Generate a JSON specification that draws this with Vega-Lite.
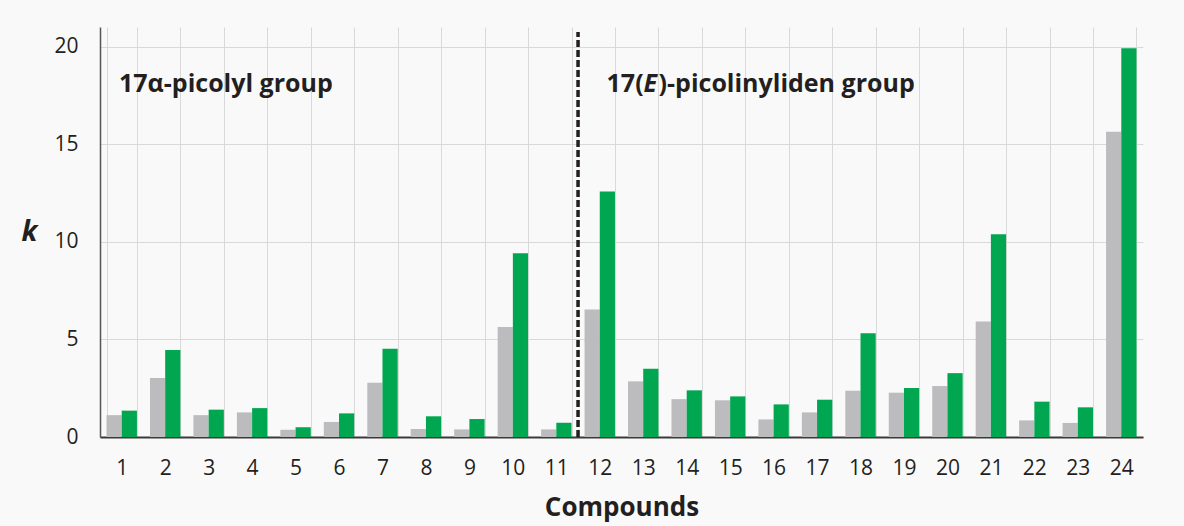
{
  "$schema": "https://vega.github.io/schema/vega-lite/v6.json",
  "width": 1043,
  "height": 410,
  "autosize": "none",
  "padding": {"left": 100, "top": 27, "right": 41, "bottom": 89},
  "background": "#f9f9f9",
  "config": {"view": {"stroke": null}, "font": "Open Sans"},
  "datasets": {
    "bars": [
      {"compound": 1, "series": "a", "k": 1.12}, {"compound": 1, "series": "b", "k": 1.35},
      {"compound": 2, "series": "a", "k": 3.02}, {"compound": 2, "series": "b", "k": 4.45},
      {"compound": 3, "series": "a", "k": 1.12}, {"compound": 3, "series": "b", "k": 1.4},
      {"compound": 4, "series": "a", "k": 1.26}, {"compound": 4, "series": "b", "k": 1.48},
      {"compound": 5, "series": "a", "k": 0.37}, {"compound": 5, "series": "b", "k": 0.5},
      {"compound": 6, "series": "a", "k": 0.77}, {"compound": 6, "series": "b", "k": 1.21},
      {"compound": 7, "series": "a", "k": 2.78}, {"compound": 7, "series": "b", "k": 4.52},
      {"compound": 8, "series": "a", "k": 0.41}, {"compound": 8, "series": "b", "k": 1.06},
      {"compound": 9, "series": "a", "k": 0.39}, {"compound": 9, "series": "b", "k": 0.92},
      {"compound": 10, "series": "a", "k": 5.64}, {"compound": 10, "series": "b", "k": 9.41},
      {"compound": 11, "series": "a", "k": 0.39}, {"compound": 11, "series": "b", "k": 0.73},
      {"compound": 12, "series": "a", "k": 6.53}, {"compound": 12, "series": "b", "k": 12.58},
      {"compound": 13, "series": "a", "k": 2.85}, {"compound": 13, "series": "b", "k": 3.49},
      {"compound": 14, "series": "a", "k": 1.94}, {"compound": 14, "series": "b", "k": 2.39},
      {"compound": 15, "series": "a", "k": 1.88}, {"compound": 15, "series": "b", "k": 2.08},
      {"compound": 16, "series": "a", "k": 0.9}, {"compound": 16, "series": "b", "k": 1.67},
      {"compound": 17, "series": "a", "k": 1.26}, {"compound": 17, "series": "b", "k": 1.91},
      {"compound": 18, "series": "a", "k": 2.37}, {"compound": 18, "series": "b", "k": 5.32},
      {"compound": 19, "series": "a", "k": 2.27}, {"compound": 19, "series": "b", "k": 2.51},
      {"compound": 20, "series": "a", "k": 2.61}, {"compound": 20, "series": "b", "k": 3.27},
      {"compound": 21, "series": "a", "k": 5.92}, {"compound": 21, "series": "b", "k": 10.38},
      {"compound": 22, "series": "a", "k": 0.85}, {"compound": 22, "series": "b", "k": 1.81},
      {"compound": 23, "series": "a", "k": 0.72}, {"compound": 23, "series": "b", "k": 1.52},
      {"compound": 24, "series": "a", "k": 15.64}, {"compound": 24, "series": "b", "k": 19.91}
    ],
    "one": [{}]
  },
  "layer": [
    {
      "data": {"name": "bars"},
      "mark": {"type": "bar"},
      "encoding": {
        "x": {
          "field": "compound",
          "type": "ordinal",
          "scale": {"paddingInner": 0.3, "paddingOuter": 0.15},
          "axis": {
            "labelAngle": 0,
            "ticks": false,
            "grid": true,
            "tickBand": "extent",
            "gridColor": "#d9d9d9",
            "gridWidth": 1,
            "domainColor": "#3a3a3a",
            "domainWidth": 2,
            "labelFontSize": 21,
            "labelColor": "#231f20",
            "labelPadding": 20,
            "title": "Compounds",
            "titleFontSize": 26,
            "titleFontWeight": "bold",
            "titleColor": "#231f20",
            "titlePadding": 16
          }
        },
        "xOffset": {"field": "series", "sort": ["a", "b"]},
        "y": {
          "field": "k",
          "type": "quantitative",
          "scale": {"domain": [0, 21], "nice": false},
          "axis": {
            "values": [0, 5, 10, 15, 20],
            "grid": true,
            "gridColor": "#d9d9d9",
            "ticks": false,
            "domainColor": "#555555",
            "domainWidth": 1.5,
            "labelFontSize": 21,
            "labelColor": "#231f20",
            "labelPadding": 22,
            "title": "k",
            "titleAngle": 0,
            "titleFontSize": 28,
            "titleFontStyle": "italic",
            "titleFontWeight": "bold",
            "titleColor": "#231f20",
            "titleX": -71,
            "titleY": 205,
            "titleAlign": "center",
            "titleBaseline": "middle"
          }
        },
        "color": {
          "field": "series",
          "scale": {"domain": ["a", "b"], "range": ["#bcbcbe", "#00a650"]},
          "legend": null
        }
      }
    },
    {
      "data": {"name": "one"},
      "mark": {"type": "rule", "strokeDash": [7, 3], "strokeWidth": 3.5, "color": "#231f20"},
      "encoding": {
        "x": {"datum": 11, "type": "ordinal", "bandPosition": 1.2143},
        "y": {"datum": 0, "type": "quantitative"},
        "y2": {"datum": 20.75}
      }
    },
    {
      "data": {"name": "one"},
      "mark": {"type": "text", "align": "left", "baseline": "alphabetic", "fontSize": 25, "fontWeight": "bold", "color": "#231f20", "dx": 12.5},
      "encoding": {
        "x": {"datum": 1, "type": "ordinal", "bandPosition": 0},
        "y": {"datum": 17.68, "type": "quantitative"},
        "text": {"value": "17α-picolyl group"}
      }
    },
    {
      "data": {"name": "one"},
      "mark": {"type": "text", "align": "left", "baseline": "alphabetic", "fontSize": 25, "fontWeight": "bold", "color": "#231f20", "dx": 22},
      "encoding": {
        "x": {"datum": 12, "type": "ordinal", "bandPosition": 0},
        "y": {"datum": 17.68, "type": "quantitative"},
        "text": {"value": "17("}
      }
    },
    {
      "data": {"name": "one"},
      "mark": {"type": "text", "align": "left", "baseline": "alphabetic", "fontSize": 25, "fontWeight": "bold", "fontStyle": "italic", "color": "#231f20", "dx": 59},
      "encoding": {
        "x": {"datum": 12, "type": "ordinal", "bandPosition": 0},
        "y": {"datum": 17.68, "type": "quantitative"},
        "text": {"value": "E"}
      }
    },
    {
      "data": {"name": "one"},
      "mark": {"type": "text", "align": "left", "baseline": "alphabetic", "fontSize": 25, "fontWeight": "bold", "color": "#231f20", "dx": 74},
      "encoding": {
        "x": {"datum": 12, "type": "ordinal", "bandPosition": 0},
        "y": {"datum": 17.68, "type": "quantitative"},
        "text": {"value": ")-picolinyliden group"}
      }
    }
  ]
}
